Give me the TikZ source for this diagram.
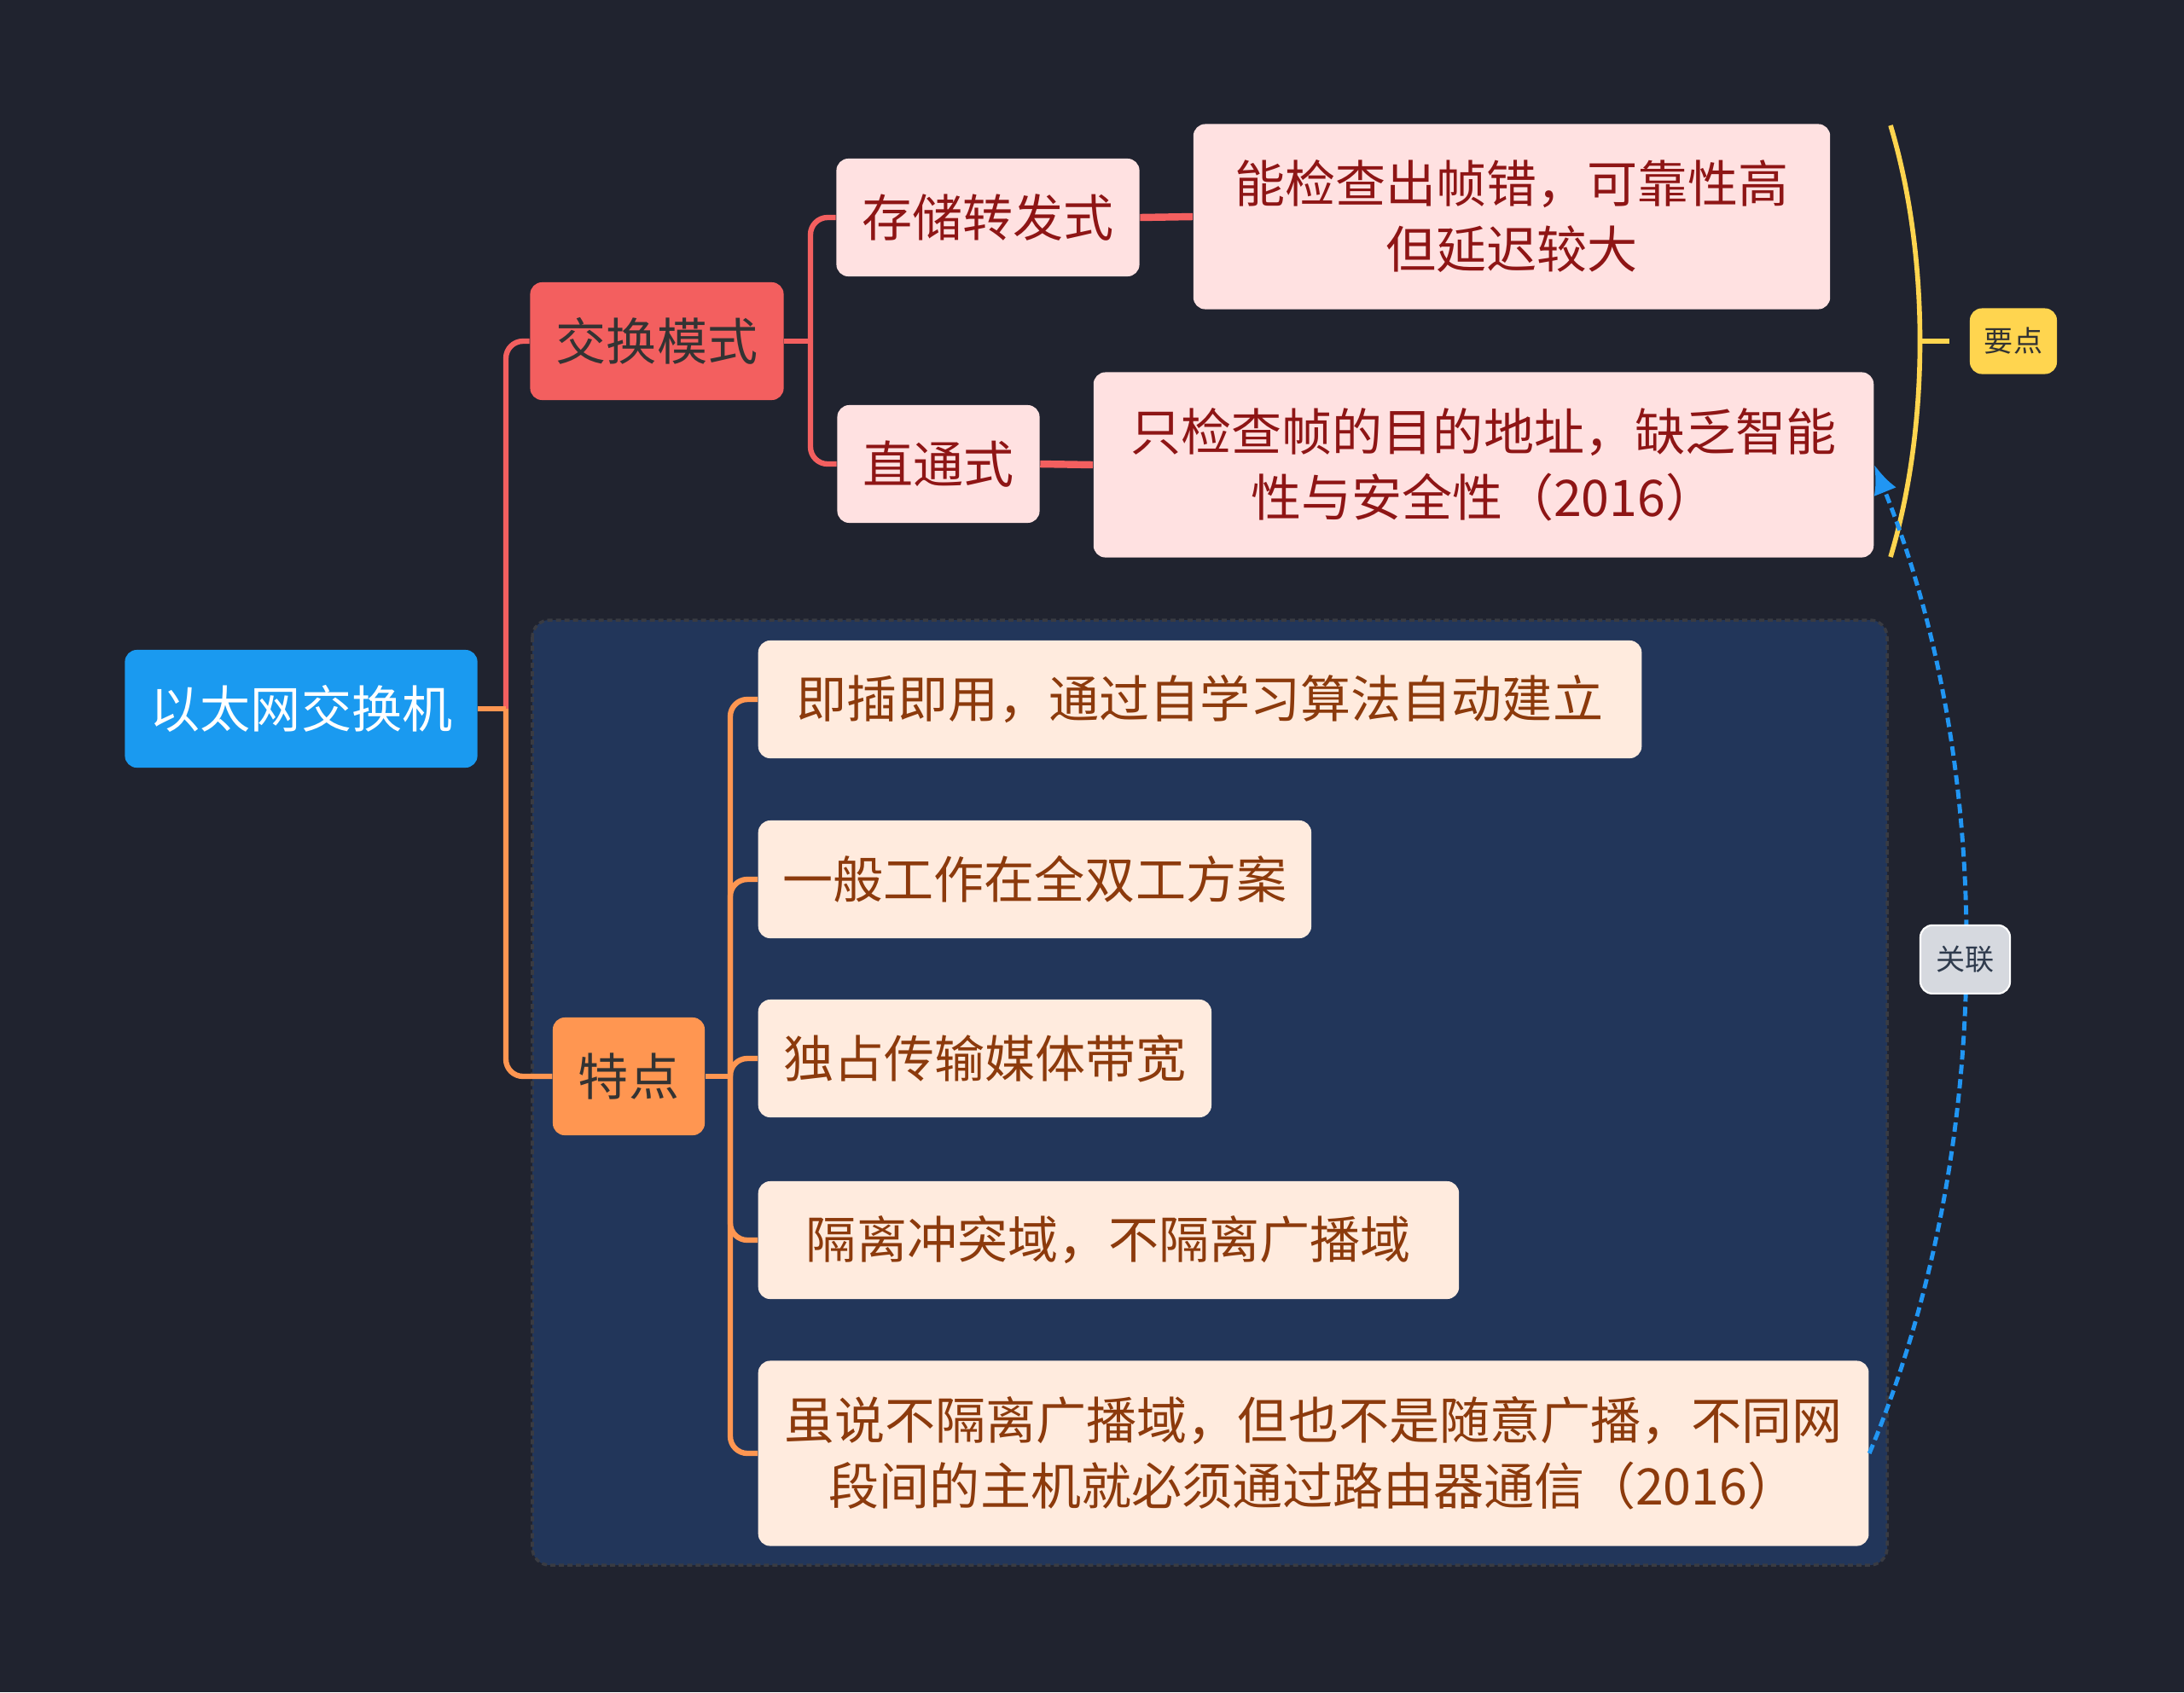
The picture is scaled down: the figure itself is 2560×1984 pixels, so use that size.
\documentclass[tikz,border=0pt]{standalone}
\usepackage{fontspec}
\usepackage{tikz}
\usetikzlibrary{arrows.meta}
\newfontfamily\cjk{Noto Sans CJK SC}
\definecolor{bgdark}{HTML}{20232F}
\definecolor{rootblue}{HTML}{1A9AF0}
\definecolor{modered}{HTML}{F35F5F}
\definecolor{featorange}{HTML}{FF9651}
\definecolor{pinkfill}{HTML}{FFE1E1}
\definecolor{pinktext}{HTML}{8E1515}
\definecolor{peachfill}{HTML}{FFEBDE}
\definecolor{peachtext}{HTML}{8C3A0C}
\definecolor{groupblue}{HTML}{22365A}
\definecolor{groupedge}{HTML}{393B42}
\definecolor{keyyellow}{HTML}{FFD54F}
\definecolor{relgray}{HTML}{D6D9DF}
\definecolor{reltext}{HTML}{2F3B4D}
\definecolor{relblue}{HTML}{2196F3}
\definecolor{darktext}{HTML}{333333}

\begin{document}
\begin{tikzpicture}[x=0.01cm,y=-0.01cm,>=Latex,
  every node/.style={font=\cjk\fontsize{16.8}{21.9}\selectfont,inner sep=0pt,rounded corners=0.14cm,align=center},
  rootbox/.style={fill=rootblue,text=white,minimum width=4.13cm,minimum height=1.38cm},
  modebox/.style={fill=modered,text=darktext,minimum width=2.97cm,minimum height=1.38cm},
  featbox/.style={fill=featorange,text=darktext,minimum width=1.78cm,minimum height=1.38cm},
  pinkstem/.style={fill=pinkfill,text=pinktext,minimum height=1.38cm},
  pinkleaf/.style={fill=pinkfill,text=pinktext,minimum height=2.17cm},
  peachleaf/.style={fill=peachfill,text=peachtext,minimum height=1.38cm,anchor=west},
  keybox/.style={fill=keyyellow,text=darktext,font=\cjk\fontsize{9.7}{12}\selectfont,minimum width=1.02cm,minimum height=0.77cm},
  relbox/.style={solid,draw=white,line width=0.6pt,fill=relgray,text=reltext,font=\cjk\fontsize{9.7}{12}\selectfont,minimum width=1.05cm,minimum height=0.8cm},
  redline/.style={draw=modered,line width=1.8pt},
  orangeline/.style={draw=featorange,line width=1.8pt},
  keyline/.style={draw=keyyellow,line width=1.6pt},
  relline/.style={draw=relblue,line width=1.4pt,dash pattern=on 0.11cm off 0.06cm,-{Latex[length=0.34cm,width=0.28cm]}}]
\fill[bgdark] (0,0) rectangle (2560,1984);
\filldraw[fill=groupblue,draw=groupedge,line width=1pt,dash pattern=on 0.06cm off 0.04cm,rounded corners=0.2cm] (624,727) rectangle (2212,1835);

% nodes
\node[rootbox] (root) at (353,831) {以太网交换机};
\node[modebox] (mode) at (770,400) {交换模式};
\node[featbox] (feat) at (737,1262) {特点};
\node[pinkstem,minimum width=3.55cm] (store) at (1158,255) {存储转发式};
\node[pinkstem,minimum width=2.37cm] (cut) at (1100,544) {直通式};
\node[pinkleaf,minimum width=7.46cm] (storeinfo) at (1772,254) {能检查出帧错，可靠性高\\但延迟较大};
\node[pinkleaf,minimum width=9.14cm] (cutinfo) at (1739,545) {只检查帧的目的地址，缺乏智能\\性与安全性（2016）};
\node[peachleaf,minimum width=10.35cm] (f1) at (888,820) {即插即用，通过自学习算法自动建立};
\node[peachleaf,minimum width=6.48cm] (f2) at (888,1031) {一般工作在全双工方案};
\node[peachleaf,minimum width=5.31cm] (f3) at (888,1241) {独占传输媒体带宽};
\node[peachleaf,minimum width=8.21cm] (f4) at (888,1454) {隔离冲突域，不隔离广播域};
\node[peachleaf,minimum width=13.01cm,minimum height=2.17cm] (f5) at (888,1704) {虽说不隔离广播域，但也不是随意广播，不同网\\段间的主机就必须通过路由器通信（2016）};
\node[keybox] (key) at (2360,400) {要点};

% connectors
\coordinate (rootj) at (593,831);
\coordinate (modej) at (950,400);
\coordinate (featj) at (856,1262);
\draw[redline,rounded corners=0.2cm] (rootj) |- (mode.west);
\draw[orangeline,rounded corners=0.2cm] (rootj) |- (feat.west);
\draw[orangeline] (root.east) -- (rootj);
\draw[redline] (mode.east) -- (modej);
\foreach \n in {store,cut} \draw[redline,rounded corners=0.2cm] (modej) |- (\n.west);
\draw[redline,line width=2.4pt] (store.east) -- (storeinfo.west);
\draw[redline,line width=2.4pt] (cut.east) -- (cutinfo.west);
\draw[orangeline] (feat.east) -- (featj);
\foreach \i in {1,...,5} \draw[orangeline,rounded corners=0.2cm] (featj) |- (f\i.west);

% summary brace
\coordinate (bracetop) at (2216,147);
\coordinate (bracebot) at (2216,653);
\coordinate (bracemid) at (2251,400);
\draw[keyline] (bracetop) .. controls (2262,300) and (2262,500) .. (bracebot);
\draw[keyline,shorten >=0.23cm] (bracemid) -- (key.west);

% relation
\draw[relline] (f5.east) .. controls (2340,1350) and (2340,900) .. node[relbox,pos=0.5] (rel) {关联} (cutinfo.east);
\end{tikzpicture}
\end{document}
